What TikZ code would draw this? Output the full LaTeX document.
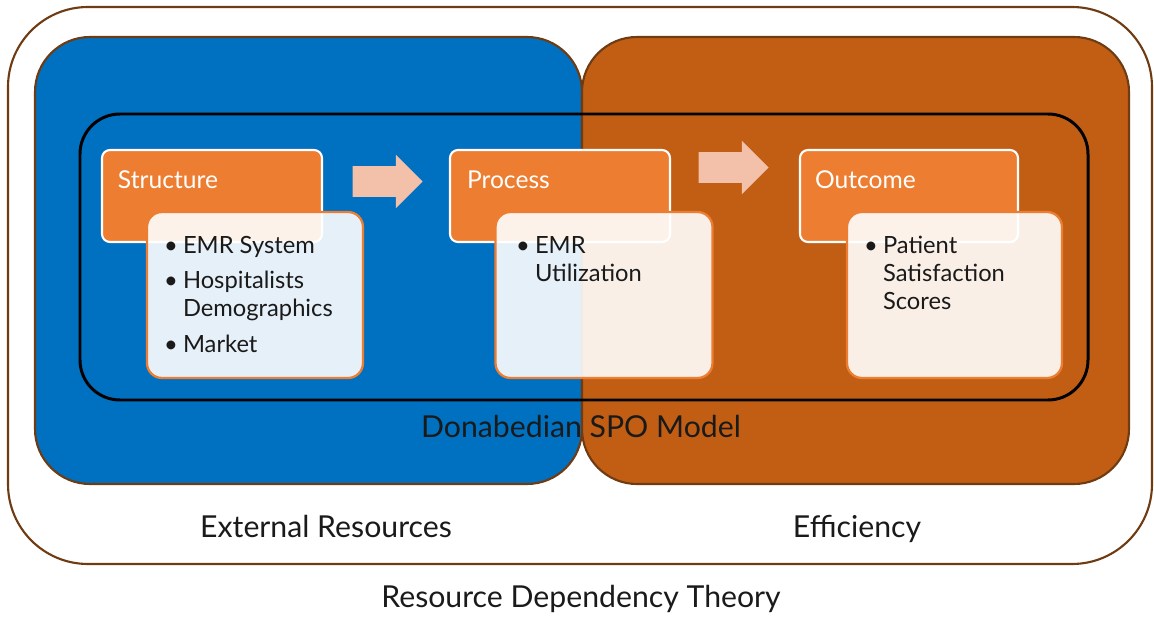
\documentclass[tikz,border=0pt]{standalone}
\usepackage{fontspec}
\setmainfont{Lato}
\usetikzlibrary{shapes.arrows,calc,positioning}
\definecolor{regionblue}{HTML}{0070C0}
\definecolor{regionorange}{HTML}{C25E14}
\definecolor{headorange}{HTML}{ED7D31}
\definecolor{arrowpink}{HTML}{F3C0AA}
\definecolor{rimbrown}{HTML}{6E3B12}
\definecolor{inktext}{HTML}{1A1A1A}

\begin{document}
\begin{tikzpicture}[x=0.2mm, y=-0.2mm]
        \tikzstyle{every node}=[inner sep=0pt, outer sep=0pt]
        \tikzstyle{region}=[draw=rimbrown, line width=1.2pt, rounded corners=11mm, minimum width=547*0.2mm, minimum height=447*0.2mm]
        \tikzstyle{headbox}=[fill=headorange, draw=white, line width=1.2pt, rounded corners=1.6mm, minimum height=92*0.2mm]
        \tikzstyle{bodybox}=[fill=white, fill opacity=0.9, draw=headorange, line width=1.3pt, rounded corners=3mm, minimum height=166*0.2mm]
        \tikzstyle{headtext}=[anchor=base west, text=white, font=\fontsize{14}{16}\selectfont]
        \tikzstyle{listtext}=[anchor=base west, text=inktext, font=\fontsize{13.5}{16.2}\selectfont]
        \tikzstyle{bigtext}=[anchor=base, text=inktext, font=\fontsize{17.2}{20}\selectfont]
        \tikzstyle{blockarrow}=[single arrow, fill=arrowpink, inner xsep=0pt, inner ysep=3mm, minimum height=70*0.2mm, single arrow head extend=2.3mm]
        \useasboundingbox (0,0) rectangle (1154,620);
        % theory frame and the two resource areas
        \node [region, fill=white, rounded corners=16mm, minimum width=1144*0.2mm, minimum height=557*0.2mm] (rdt) at (580,285.5) {};
        \node [region, fill=regionblue] (extres) at (308.5,260.5) {};
        \node [region, fill=regionorange] (effic) at (855.5,260.5) {};
        \node [draw=black, line width=1.7pt, rounded corners=8mm, minimum width=1008*0.2mm, minimum height=286*0.2mm] (spo) at (584,257) {};
        \node [bigtext] (spolabel) at (581,437) {Donabedian SPO Model};
        \node [bigtext] (extlabel) at (326,537) {External Resources};
        \node [bigtext] (efflabel) at (857,537) {Efficiency};
        \node [bigtext] (rdtlabel) at (581,607) {Resource Dependency Theory};
        % structure -> process -> outcome
        \node [headbox, minimum width=220*0.2mm] (shead) at (212,196) {};
        \node [headtext] (stitle) at ([shift={(16,38)}]shead.north west) {Structure};
        \node [headbox, minimum width=220*0.2mm] (phead) at (560,196) {};
        \node [headtext] (ptitle) at ([shift={(17,38)}]phead.north west) {Process};
        \node [headbox, minimum width=218*0.2mm] (ohead) at (909,196) {};
        \node [headtext] (otitle) at ([shift={(15,38)}]ohead.north west) {Outcome};
        \node [blockarrow] (sparrow) at ($(shead.east)!.5!(phead.west)+(-6,-14.5)$) {};
        \node [blockarrow] (poarrow) at ($(phead.east)!.5!(ohead.west)+(-9,-28.5)$) {};
        \node [bodybox, minimum width=216*0.2mm] (sbody) at (255,295) {};
        \node [bodybox, minimum width=217*0.2mm] (pbody) at (604,295) {};
        \node [bodybox, minimum width=215*0.2mm] (obody) at (954.5,295) {};
        \node [listtext] (slist) at (164,253) {\begin{tabular}[t]{@{}l@{\hspace{3pt}}l@{}}
            \textbullet & EMR System\\[4pt]
            \textbullet & Hospitalists\\
             & Demographics\\[4pt]
            \textbullet & Market
          \end{tabular}};
        \node [listtext] (plist) at (516,253) {\begin{tabular}[t]{@{}l@{\hspace{3pt}}l@{}}
            \textbullet & EMR\\
             & Utilization
          \end{tabular}};
        \node [listtext] (olist) at (864,253) {\begin{tabular}[t]{@{}l@{\hspace{3pt}}l@{}}
            \textbullet & Patient\\
             & Satisfaction\\
             & Scores
          \end{tabular}};
    \end{tikzpicture}
\end{document}
